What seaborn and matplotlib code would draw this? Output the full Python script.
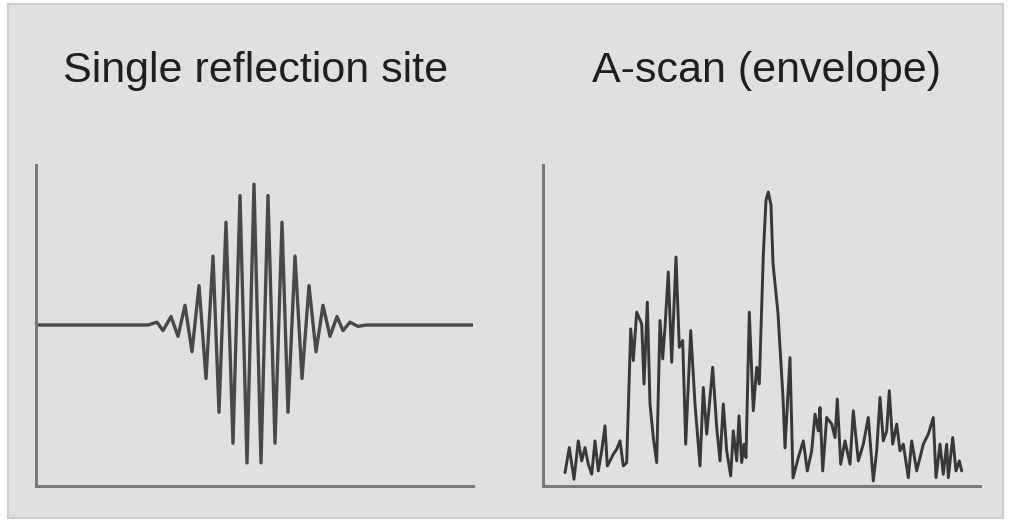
import matplotlib
matplotlib.use("Agg")
import matplotlib.pyplot as plt
import seaborn as sns
import pandas as pd
from matplotlib.patches import Rectangle

# ---------------- data ----------------
titles = ["Single reflection site", "A-scan (envelope)"]

wave_x = [0, 112, 121, 127, 135, 142, 149, 156, 163, 170, 177, 183, 190, 197, 204,
          211, 218, 225, 232, 239, 246, 252, 259, 266, 273, 280, 287, 294, 301, 307,
          314, 322, 330, 437]
wave_y = [0, 0, 0.02, -0.04, 0.06, -0.08, 0.14, -0.19, 0.28, -0.38, 0.49, -0.62, 0.73,
          -0.84, 0.92, -0.98, 1.0, -0.98, 0.92, -0.84, 0.73, -0.62, 0.49, -0.38, 0.28,
          -0.19, 0.14, -0.08, 0.06, -0.04, 0.02, -0.01, 0, 0]

scan_x = [22, 26.3, 31, 35.3, 38.7, 42, 45.3, 48.7, 52, 55.3, 58.7, 62, 64.3, 67, 70.3,
          73.7, 77, 80.3, 83.7, 87.7, 90.3, 93.7, 98.7, 101, 104.3, 107, 110.3, 113.7,
          117, 119.7, 122, 125.3, 128.7, 133, 136.3, 139.7, 142.7, 147.7, 152, 157,
          160.3, 163.7, 169.7, 173.7, 177, 180.3, 183.7, 187.7, 190.3, 193.7, 196,
          198.7, 201, 203, 206.3, 210.3, 213.7, 216.3, 220.3, 223, 225.3, 228, 230,
          235, 240, 242, 247, 250, 255.3, 260.3, 264.3, 268.7, 272, 275.3, 277, 279.7,
          283.7, 288.7, 292, 294.3, 297.7, 302, 307, 310.3, 315.3, 320.3, 325.3, 330.3,
          333.7, 337, 340.3, 343.7, 346.3, 349.7, 353.7, 357, 360.3, 365.3, 368.7,
          373.7, 380.3, 385.3, 390.3, 393, 397, 400.3, 403.7, 405.3, 409.7, 413, 416.3,
          418.7]
scan_y = [13.3, 38.3, 6.7, 45, 25, 38.3, 21.7, 11.7, 45, 15, 35, 60, 20, 25, 31.7,
          36.7, 45, 20, 23.3, 156.7, 125, 173.3, 161.7, 101.7, 183.3, 81.7, 48.3, 23.3,
          165, 126.7, 158.3, 213.3, 123.3, 228.3, 138.3, 145, 41.7, 155, 81.7, 20,
          98.3, 51.7, 118.3, 58.3, 25, 81.7, 35, 10, 55, 25, 70, 23.3, 41.7, 28.3,
          173.3, 75, 118.3, 101.7, 230, 285, 293, 280, 222, 172, 88, 38, 128, 8, 28.3,
          45, 15, 35, 71.7, 55, 78.3, 15, 68.3, 61.7, 48.3, 86.7, 21.7, 45, 21.7, 75,
          25, 41.7, 68.3, 5, 35, 88.3, 45, 55, 95, 41.7, 61.7, 35, 41.7, 8.3, 45, 15,
          41.7, 51.7, 68.3, 8.3, 41.7, 11.7, 41.7, 8.3, 48.3, 15, 25, 15]

# ---------------- figure ----------------
sns.set_theme(style="white")
plt.rcParams['font.family'] = ['Liberation Sans', 'DejaVu Sans']

W, H = 1011, 526
fig = plt.figure(figsize=(W / 100, H / 100), dpi=100)
fig.patch.set_facecolor("white")

# grey panel (behind everything)
fig.patches.append(Rectangle((8 / W, (H - 518) / H), (1003 - 8) / W, (518 - 4) / H,
                             transform=fig.transFigure, facecolor="#e0e0e0",
                             edgecolor="#cdcdcd", linewidth=1.5, zorder=-10))

bottom = (H - 486) / H
height = (486 - 165) / H
ax1 = fig.add_axes([36 / W, bottom, 437 / W, height])
ax2 = fig.add_axes([543 / W, bottom, 437 / W, height])
ax1.set_zorder(5)
ax2.set_zorder(5)

df_wave = pd.DataFrame({"x": wave_x, "y": wave_y})
df_scan = pd.DataFrame({"x": scan_x, "y": scan_y})

sns.lineplot(data=df_wave, x="x", y="y", ax=ax1, sort=False, estimator=None,
             color="#484848", linewidth=2.4)
sns.lineplot(data=df_scan, x="x", y="y", ax=ax2, sort=False, estimator=None,
             color="#383838", linewidth=2.1)

ax1.set_xlim(0, 437)
ax1.set_ylim(-1.144, 1.137)
ax2.set_xlim(0, 437)
ax2.set_ylim(0, 320)

for ax in (ax1, ax2):
    ax.patch.set_visible(False)
    ax.set_xticks([])
    ax.set_yticks([])
    ax.set_xlabel("")
    ax.set_ylabel("")
    for s in ("top", "right"):
        ax.spines[s].set_visible(False)
    for s in ("left", "bottom"):
        ax.spines[s].set_visible(True)
        ax.spines[s].set_color("#7a7a7a")
        ax.spines[s].set_linewidth(2.2)
    for l in ax.lines:
        l.set_solid_joinstyle("round")
        l.set_solid_capstyle("round")

fig.text(256 / W, (H - 82) / H, titles[0], ha="center", va="baseline",
         fontsize=31, color="#1f1f1f", zorder=10)
fig.text(766 / W, (H - 82) / H, titles[1], ha="center", va="baseline",
         fontsize=31, color="#1f1f1f", zorder=10)

fig.savefig("out.png", dpi=100, facecolor="white")
